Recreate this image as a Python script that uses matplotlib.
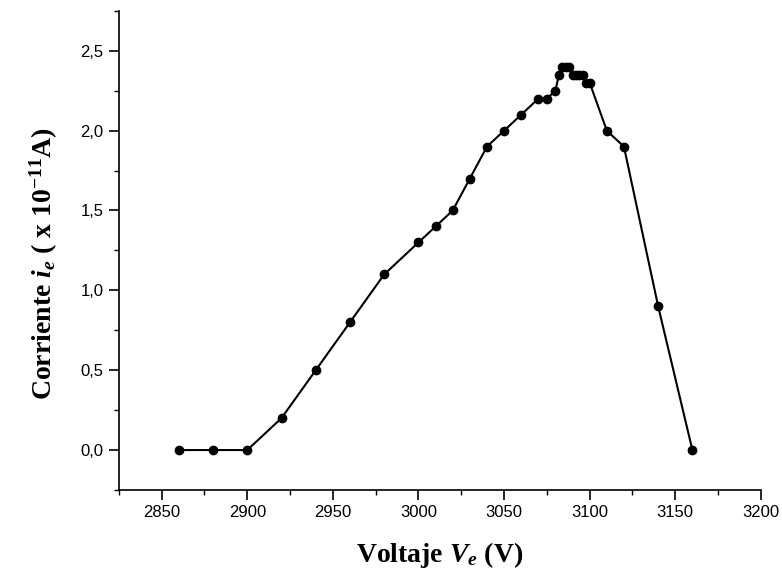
import numpy as np
import matplotlib
matplotlib.use("Agg")
import matplotlib.pyplot as plt
from matplotlib.ticker import MultipleLocator, FuncFormatter

plt.rcParams['mathtext.fontset'] = 'custom'
plt.rcParams['mathtext.rm'] = 'Liberation Serif:bold'
plt.rcParams['mathtext.it'] = 'Liberation Serif:bold:italic'
plt.rcParams['mathtext.bf'] = 'Liberation Serif:bold'

# voltage (V) and current (x 1e-11 A)
voltaje = [2860, 2880, 2900, 2920, 2940, 2960, 2980, 3000, 3010, 3020,
           3030, 3040, 3050, 3060, 3070, 3075, 3080, 3082, 3084, 3086,
           3088, 3090, 3092, 3094, 3096, 3098, 3100, 3110, 3120, 3140, 3160]
corriente = [0.0, 0.0, 0.0, 0.2, 0.5, 0.8, 1.1, 1.3, 1.4, 1.5,
             1.7, 1.9, 2.0, 2.1, 2.2, 2.2, 2.25, 2.35, 2.4, 2.4,
             2.4, 2.35, 2.35, 2.35, 2.35, 2.3, 2.3, 2.0, 1.9, 0.9, 0.0]

fig = plt.figure(figsize=(7.82, 5.72), dpi=100)
ax = fig.add_axes([0.152, 0.1434, 0.821, 0.8376])

ax.plot(voltaje, corriente, "-o", color="black", lw=1.5, ms=6)

ax.set_xlim(2825, 3200)
ax.set_ylim(-0.25, 2.75)
ax.xaxis.set_major_locator(MultipleLocator(50))
ax.xaxis.set_minor_locator(MultipleLocator(25))
ax.yaxis.set_major_locator(MultipleLocator(0.5))
ax.yaxis.set_minor_locator(MultipleLocator(0.25))
ax.yaxis.set_major_formatter(FuncFormatter(lambda v, p: f"{v:.1f}".replace(".", ",")))

for side in ["top", "right"]:
    ax.spines[side].set_visible(False)
ax.spines["left"].set_linewidth(1.2)
ax.spines["bottom"].set_linewidth(1.2)
ax.tick_params(which="major", direction="out", length=7, width=1.2,
               labelsize=12, pad=4)
ax.tick_params(which="minor", direction="out", length=3.5, width=1.0)
for lab in ax.get_xticklabels() + ax.get_yticklabels():
    lab.set_family("Liberation Sans")

ax.set_xlabel(r"Voltaje $V_e$ (V)", family="Liberation Serif",
              fontweight="bold", fontsize=20, labelpad=14)
ax.set_ylabel(r"Corriente $i_e$ ( x 10$^{\mathrm{-11}}$A)", family="Liberation Serif",
              fontweight="bold", fontsize=20, labelpad=15)
# label sits a bit below the axis centre in the original
ax.yaxis.label.set_y(0.472)

fig.savefig("out.png", dpi=100)
